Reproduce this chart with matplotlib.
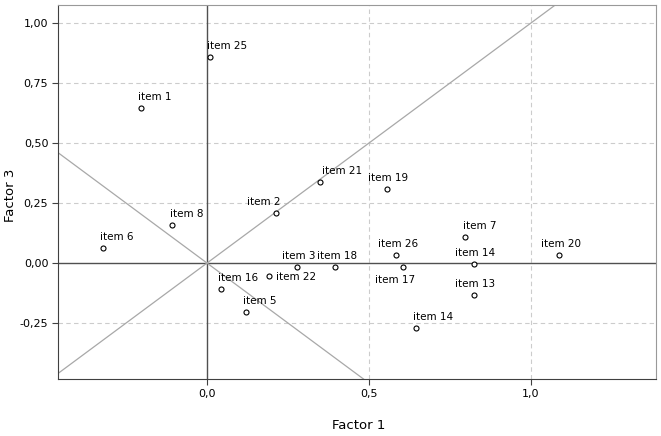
import matplotlib
matplotlib.use("Agg")
import matplotlib.pyplot as plt
from matplotlib.ticker import FuncFormatter

# loadings
labels = ["item 25", "item 1", "item 8", "item 6", "item 2", "item 21", "item 19",
          "item 26", "item 3", "item 18", "item 17", "item 22", "item 16", "item 5",
          "item 7", "item 14", "item 20", "item 13", "item 14"]
factor1 = [0.009, -0.205, -0.109, -0.320, 0.213, 0.349, 0.556,
           0.583, 0.277, 0.395, 0.605, 0.192, 0.043, 0.119,
           0.796, 0.824, 1.087, 0.824, 0.646]
factor3 = [0.858, 0.647, 0.158, 0.061, 0.207, 0.338, 0.307,
           0.033, -0.015, -0.015, -0.018, -0.054, -0.107, -0.204,
           0.107, -0.005, 0.033, -0.132, -0.272]

# label offsets in pixels (dx, dy) relative to each point
offsets = [(-3, 8), (-3, 8), (-2, 8), (-3, 8), (-29, 8), (2, 8), (-19, 8),
           (-18, 8), (-15, 8), (-18, 8), (-28, -16), (7, -4), (-3, 8), (-3, 8),
           (-2, 8), (-19, 8), (-18, 8), (-19, 8), (-3, 8)]

xticks = [0.0, 0.5, 1.0]
yticks = [-0.25, 0.0, 0.25, 0.5, 0.75, 1.0]

fig = plt.figure(figsize=(6.61, 4.36), dpi=100)
ax = fig.add_axes([58 / 661, 57 / 436, 598 / 661, 374 / 436])
ax.set_xlim(-0.46, 1.386)
ax.set_ylim(-0.483, 1.075)

grid_kw = dict(color="#cccccc", lw=0.8, ls=(0, (4, 3)), zorder=1)
for y in yticks:
    if y != 0:
        ax.axhline(y, **grid_kw)
for x in xticks:
    if x != 0:
        ax.axvline(x, **grid_kw)

ax.axhline(0, color="#505050", lw=1, zorder=2)
ax.axvline(0, color="#505050", lw=1, zorder=2)
ax.axline((0, 0), slope=1, color="#a8a8a8", lw=0.9, zorder=2)
ax.axline((0, 0), slope=-1, color="#a8a8a8", lw=0.9, zorder=2)

ax.plot(factor1, factor3, ls="none", marker="o", ms=3.6, mfc="white",
        mec="black", mew=0.8, zorder=3)
for name, x, y, (dx, dy) in zip(labels, factor1, factor3, offsets):
    ax.annotate(name, (x, y), xytext=(dx, dy), textcoords="offset pixels",
                ha="left", va="baseline", fontsize=7.5, zorder=4)

ax.set_xticks(xticks)
ax.set_yticks(yticks)
ax.xaxis.set_major_formatter(FuncFormatter(lambda v, p: f"{v:.1f}".replace(".", ",")))
ax.yaxis.set_major_formatter(FuncFormatter(lambda v, p: f"{v:.2f}".replace(".", ",")))
ax.tick_params(labelsize=8, length=4, width=0.8, color="#404040", pad=3)

for side in ("left", "bottom"):
    ax.spines[side].set_color("#404040")
for side in ("top", "right"):
    ax.spines[side].set_color("#999999")

fig.text(359 / 661, 1 - 425 / 436, "Factor 1", fontsize=9.5, ha="center", va="center")
fig.text(11 / 661, 1 - 195 / 436, "Factor 3", fontsize=9.5, ha="center", va="center",
         rotation=90)

fig.savefig("out.png", dpi=100)
